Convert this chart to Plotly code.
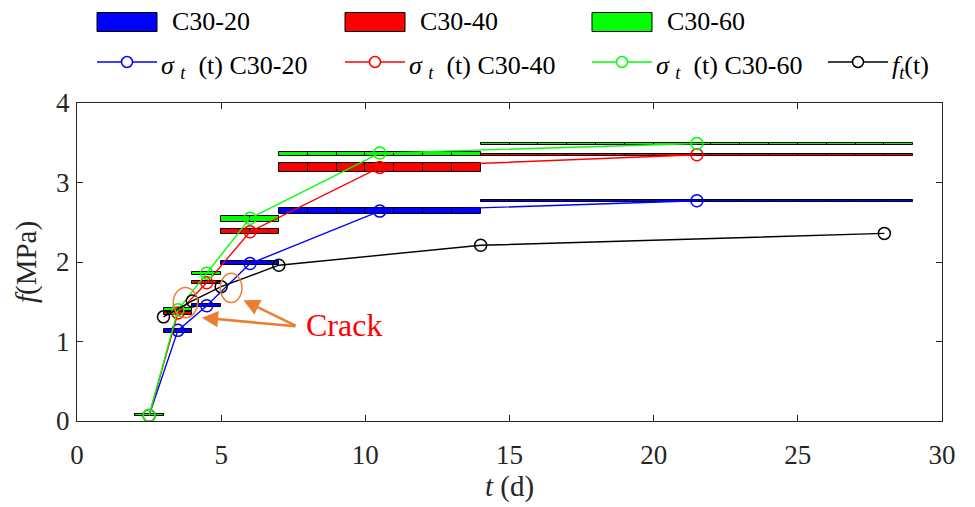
import plotly.graph_objects as go

# ---------------- data ----------------
interval_start = [2, 3, 4, 5, 7, 14]
interval_end = [3, 4, 5, 7, 14, 29]
sigma_t_age = [2.5, 3.5, 4.5, 6.0, 10.5, 21.5]

c20_low = [0.06, 1.11, 1.44, 1.96, 2.60, 2.75]
c20_high = [0.085, 1.16, 1.47, 2.01, 2.68, 2.78]
c20_sigma = [0.07, 1.14, 1.45, 1.98, 2.64, 2.77]

c40_low = [0.06, 1.33, 1.72, 2.35, 3.13, 3.33]
c40_high = [0.085, 1.37, 1.76, 2.42, 3.25, 3.36]
c40_sigma = [0.07, 1.36, 1.74, 2.38, 3.19, 3.35]

c60_low = [0.06, 1.38, 1.84, 2.50, 3.33, 3.47]
c60_high = [0.085, 1.42, 1.88, 2.58, 3.38, 3.50]
c60_sigma = [0.07, 1.40, 1.86, 2.55, 3.37, 3.49]

ft_age = [3, 4, 5, 7, 14, 28]
ft_value = [1.31, 1.51, 1.69, 1.96, 2.21, 2.36]

series_names = ["C30-20", "C30-40", "C30-60"]
series_colors = ["#0000FF", "#FF0000", "#00FF00"]

x_ticks = [0, 5, 10, 15, 20, 25, 30]
y_ticks = [0, 1, 2, 3, 4]

# Crack annotation (data coords)
crack_ellipses = [(3.34, 1.30, 4.18, 1.68), (4.97, 1.49, 5.72, 1.86)]
crack_tips = [(4.33, 1.30), (5.77, 1.52)]
crack_tail = (7.63, 1.19)
crack_label_pos = (9.27, 1.21)

FONT = "Liberation Serif"

fig = go.Figure()

lows = [c20_low, c40_low, c60_low]
highs = [c20_high, c40_high, c60_high]
sigmas = [c20_sigma, c40_sigma, c60_sigma]

# daily bars spanning each interval (range low..high)
for name, color, lo, hi in zip(series_names, series_colors, lows, highs):
    xs, bases, heights = [], [], []
    for s, e, l, h in zip(interval_start, interval_end, lo, hi):
        for d in range(s, e):
            xs.append(d + 0.5)
            bases.append(l)
            heights.append(h - l)
    fig.add_trace(go.Bar(
        x=xs, y=heights, base=bases, width=1.0, name=name,
        marker=dict(color=color, line=dict(color="black", width=1)),
        showlegend=False,
    ))

for name, color, sg in zip(series_names, series_colors, sigmas):
    fig.add_trace(go.Scatter(
        x=sigma_t_age, y=sg, mode="lines+markers", name="σt(t) " + name,
        line=dict(color=color, width=1.4),
        marker=dict(symbol="circle-open", size=12, color=color, line=dict(width=1.5)),
        showlegend=False,
    ))

fig.add_trace(go.Scatter(
    x=ft_age, y=ft_value, mode="lines+markers", name="ft(t)",
    line=dict(color="black", width=1.4),
    marker=dict(symbol="circle-open", size=12, color="black", line=dict(width=1.5)),
    showlegend=False,
))

# crack ellipses
for (x0, y0, x1, y1) in crack_ellipses:
    fig.add_shape(type="circle", xref="x", yref="y", x0=x0, y0=y0, x1=x1, y1=y1,
                  line=dict(color="#ED7D31", width=1.5))
for (tx, ty) in crack_tips:
    fig.add_annotation(x=tx, y=ty, ax=crack_tail[0], ay=crack_tail[1],
                       xref="x", yref="y", axref="x", ayref="y",
                       text="", showarrow=True, arrowhead=2, arrowsize=1.3,
                       arrowwidth=2.5, arrowcolor="#ED7D31")
fig.add_annotation(x=crack_label_pos[0], y=crack_label_pos[1], xref="x", yref="y",
                   text="Crack", showarrow=False,
                   font=dict(family=FONT, size=32, color="#FF0000"))

# ---------------- layout geometry (screen pixels; page body has 8px offset) ----------------
OFF = 8
L, R, T, B = 77, 942, 103, 421
W, H = 975, 507

def px(xp):
    return (xp - L) / (R - L)
def py(yp):
    return (B - yp) / (B - T)

# ---------------- manual legend ----------------
LEG_FONT = 26
leg_x = [97, 345, 592]
row1_y = 22
row2_y = 62
for x0, name, color in zip(leg_x, series_names, series_colors):
    fig.add_shape(type="rect", xref="paper", yref="paper",
                  x0=px(x0), x1=px(x0 + 60), y0=py(row1_y + 9.5), y1=py(row1_y - 9.5),
                  fillcolor=color, line=dict(color="black", width=1))
    fig.add_annotation(xref="paper", yref="paper", x=px(x0 + 73), y=py(row1_y),
                       xanchor="left", yanchor="middle", showarrow=False, text=name,
                       font=dict(family=FONT, size=LEG_FONT, color="black"))

row2_items = [(leg_x[0], series_colors[0], "<i>σ</i>&nbsp;<sub><i>t</i></sub>&nbsp;&nbsp;(t) C30-20"),
              (leg_x[1], series_colors[1], "<i>σ</i>&nbsp;<sub><i>t</i></sub>&nbsp;&nbsp;(t) C30-40"),
              (leg_x[2], series_colors[2], "<i>σ</i>&nbsp;<sub><i>t</i></sub>&nbsp;&nbsp;(t) C30-60"),
              (828, "black", "<i>f</i><sub><i>t</i></sub>(t)")]
for x0, color, label in row2_items:
    fig.add_shape(type="line", xref="paper", yref="paper",
                  x0=px(x0), x1=px(x0 + 60), y0=py(row2_y), y1=py(row2_y),
                  line=dict(color=color, width=1.5))
    fig.add_shape(type="circle", xref="paper", yref="paper",
                  xsizemode="pixel", ysizemode="pixel",
                  xanchor=px(x0 + 30), yanchor=py(row2_y),
                  x0=-5.5, x1=5.5, y0=-5.5, y1=5.5,
                  fillcolor="white", line=dict(color=color, width=1.5))
    fig.add_annotation(xref="paper", yref="paper", x=px(x0 + 62), y=py(row2_y + 5),
                       xanchor="left", yanchor="middle", showarrow=False, text=label,
                       font=dict(family=FONT, size=LEG_FONT, color="black"))

axis_common = dict(
    showline=True, linecolor="#262626", linewidth=1, mirror="allticks",
    ticks="inside", ticklen=6, tickcolor="#262626", showgrid=False, zeroline=False,
    automargin=False,
    tickfont=dict(family=FONT, size=27, color="#262626"),
)

fig.update_layout(
    width=W, height=H,
    margin=dict(l=L - OFF, r=W - (R - OFF), t=T - OFF, b=H - (B - OFF)),
    paper_bgcolor="white", plot_bgcolor="white",
    font=dict(family=FONT),
    barmode="overlay", bargap=0,
    showlegend=False,
    xaxis=dict(range=[0, 30], tickvals=x_ticks, ticktext=[str(v) for v in x_ticks],
               title=dict(text="<i>t</i> (d)", font=dict(family=FONT, size=29, color="#262626"), standoff=4),
               ticklabelstandoff=10, **axis_common),
    yaxis=dict(range=[0, 4], tickvals=y_ticks, ticktext=[str(v) for v in y_ticks],
               title=dict(text="<i>f</i>(MPa)", font=dict(family=FONT, size=29, color="#262626"), standoff=10),
               ticklabelstandoff=1, **axis_common),
)

fig.write_html("out.html")
